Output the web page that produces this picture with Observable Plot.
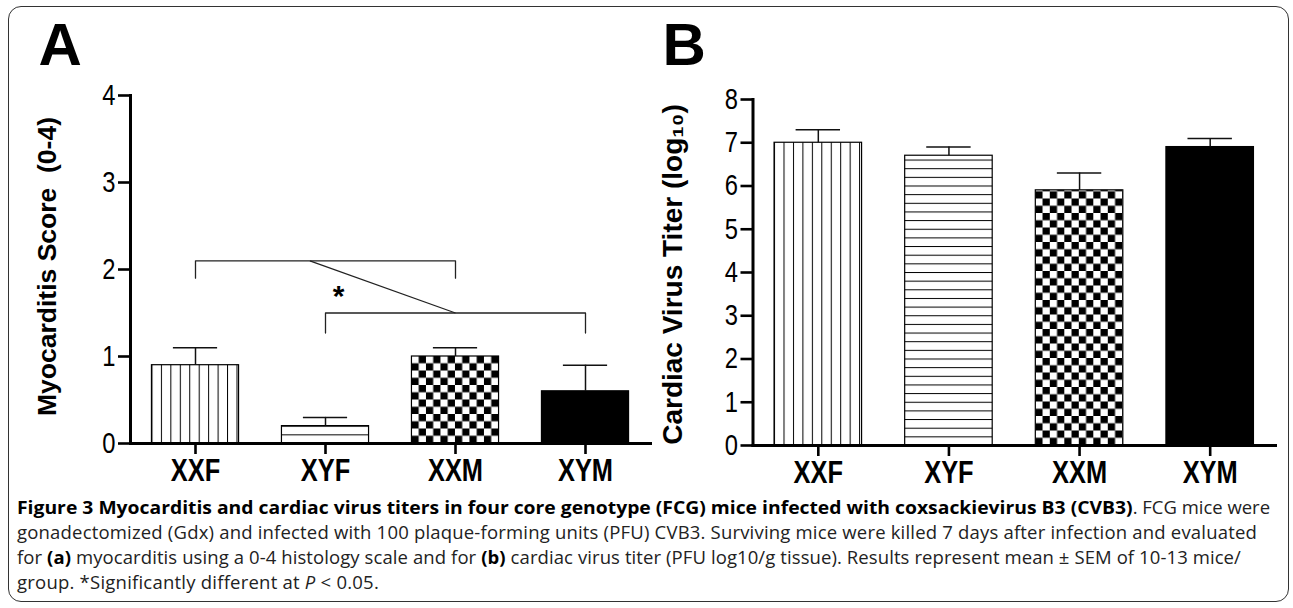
<!DOCTYPE html>
<html>
<head>
<meta charset="utf-8">
<script src="https://cdn.jsdelivr.net/npm/d3@7"></script>
<script src="https://cdn.jsdelivr.net/npm/@observablehq/plot@0.6"></script>
<style>
  html, body { margin: 0; padding: 0; background: #fff; }
  body { width: 1293px; height: 608px; position: relative; overflow: hidden; }
  #border { position: absolute; left: 8px; top: 6px; width: 1281px; height: 596px; border: 1.5px solid #333; border-radius: 13px; box-sizing: border-box; }
  #panelA { position: absolute; left: 0; top: 0; }
  #panelB { position: absolute; left: 640px; top: 0; }
  #caption { position: absolute; left: 17px; top: 494px; font-family: "Open Sans", "Noto Sans", sans-serif; font-size: 18.5px; color: #222; }
  #caption .line { height: 25px; line-height: 25px; white-space: nowrap; }
  #caption .line > span.inner { display: inline-block; white-space: nowrap; transform-origin: 0 50%; }
  #caption b { color: #000; font-weight: 700; }
  #caption b[data-w] { display: inline-block; transform-origin: 0 50%; white-space: nowrap; letter-spacing: 0; }
</style>
</head>
<body>
<div id="border"></div>
<div id="panelA"></div>
<div id="panelB"></div>
<div id="caption">
  <div class="line" data-w="1253"><span class="inner"><b data-w="1118">Figure 3 Myocarditis and cardiac virus titers in four core genotype (FCG) mice infected with coxsackievirus B3 (CVB3)</b>. FCG mice were</span></div>
  <div class="line" data-w="1240"><span class="inner">gonadectomized (Gdx) and infected with 100 plaque-forming units (PFU) CVB3. Surviving mice were killed 7 days after infection and evaluated</span></div>
  <div class="line" data-w="1224"><span class="inner">for <b>(a)</b> myocarditis using a 0-4 histology scale and for <b>(b)</b> cardiac virus titer (PFU log10/g tissue). Results represent mean ± SEM of 10-13 mice/</span></div>
  <div class="line" data-w="362"><span class="inner">group. *Significantly different at <i>P</i> &lt; 0.05.</span></div>
</div>
<script>
// ---------- data ----------
const categories = ["XXF", "XYF", "XXM", "XYM"];
const myocarditisMean = [0.9, 0.2, 1.0, 0.6];
const myocarditisSEM = [0.2, 0.1, 0.1, 0.3];
const titerMean = [7.0, 6.7, 5.9, 6.9];
const titerSEM = [0.3, 0.2, 0.4, 0.2];
const myocarditisTicks = [0, 1, 2, 3, 4];
const titerTicks = [0, 1, 2, 3, 4, 5, 6, 7, 8];
// significance brackets (panel A)
const bracketFrom = ["XXF", "XYF"];
const bracketTo = ["XXM", "XYM"];
const bracketLevel = [2.1, 1.5];
const bracketLegEnd = [1.9, 1.27];
const connectorFrom = [1.88, 2.1]; // [position along categories, score]
const connectorTo = [3, 1.5];
const starLabel = ["*"];
const starPos = [2.1, 1.77];

// ---------- style ----------
const arial = "'Liberation Sans', Arial, sans-serif";
const narrowScale = 0.82; // Arial Narrow ~ Arial at 82% width
const barHalf = 0.335, capHalf = 0.17;

function rows(means, sems) {
  return categories.map((c, k) => ({cat: c, i: k + 1, mean: means[k], top: means[k] + sems[k]}));
}

function narrowen(svg) {
  d3.select(svg).selectAll('g[aria-label="y-axis tick label"] text, g[aria-label="x-axis tick label"] text, g[aria-label="panel letter"] text')
    .each(function () {
      let t = this.getAttribute("transform") || "";
      const x = this.getAttribute("x"), y = this.getAttribute("y");
      if (x !== null && !isNaN(+x)) { t += ` translate(${+x},0)`; this.removeAttribute("x"); }
      if (y !== null && !isNaN(+y)) { t += ` translate(0,${+y})`; this.removeAttribute("y"); }
      this.setAttribute("transform", t + ` scale(${narrowScale},1)`);
    });
}

function panel(opts) {
  const data = rows(opts.means, opts.sems);
  const p = opts.prefix;
  const fills = [`url(#${p}-v)`, `url(#${p}-h)`, `url(#${p}-c)`, "#000"];
  const marks = [
    Plot.rectY(data, {x1: d => d.i - barHalf, x2: d => d.i + barHalf, y: "mean", fill: "cat", stroke: "#000", strokeWidth: 1.2}),
    Plot.ruleX(data, {x: "i", y1: "mean", y2: "top", stroke: "#111", strokeWidth: 1.5}),
    Plot.ruleY(data, {x1: d => d.i - capHalf, x2: d => d.i + capHalf, y: "top", stroke: "#111", strokeWidth: 1.5}),
    Plot.frame({anchor: "left", strokeWidth: 3}),
    Plot.frame({anchor: "bottom", strokeWidth: 3}),
    Plot.axisY({ticks: opts.ticks, tickFormat: "d", tickSize: 12, tickPadding: 3, fontSize: 29, strokeWidth: 2.6, label: null, fontFamily: arial}),
    Plot.axisX({ticks: [1, 2, 3, 4], tickFormat: i => categories[i - 1], tickSize: 11, tickPadding: 4, fontSize: 31, fontWeight: "bold", strokeWidth: 2.6, label: null, fontFamily: arial}),
    Plot.text([opts.letter], {ariaLabel: "panel letter", frameAnchor: "top-left", dx: opts.letterDx, dy: opts.letterDy, textAnchor: "start", lineAnchor: "top", fontSize: 60, fontWeight: "bold", fontFamily: arial, fill: "#000"}),
    Plot.text([opts.ylabel], {frameAnchor: "left", rotate: -90, dx: opts.labelDx, dy: opts.labelDy, textAnchor: "middle", lineAnchor: "middle", fontSize: opts.labelSize, fontWeight: "bold", fontFamily: arial, fill: "#000"})
  ];
  if (opts.extra) marks.push(...opts.extra);
  const svg = Plot.plot({
    width: opts.width, height: 490,
    marginLeft: opts.ml, marginRight: opts.mr, marginTop: opts.mt, marginBottom: opts.mb,
    style: {background: "transparent", fontFamily: arial, color: "#000", overflow: "visible"},
    x: {type: "linear", domain: [0.5, 4.5], axis: null},
    y: {domain: [opts.ticks[0], opts.ticks[opts.ticks.length - 1]], axis: null},
    color: {type: "ordinal", domain: categories, range: fills},
    marks
  });
  // patterns aligned to the bars
  const xs = svg.scale("x"), ys = svg.scale("y");
  const base = ys.apply(0);
  const defs = d3.select(svg).insert("defs", ":first-child");
  const left = k => xs.apply(k + 1 - barHalf);
  const sv = 9.45, sh = 8.65, cc = 7.25;
  const pv = defs.append("pattern").attr("id", `${p}-v`).attr("patternUnits", "userSpaceOnUse")
    .attr("x", left(0)).attr("y", 0).attr("width", sv).attr("height", 20);
  pv.append("rect").attr("width", sv).attr("height", 20).attr("fill", "#fff");
  pv.append("line").attr("x1", 0.5).attr("x2", 0.5).attr("y1", 0).attr("y2", 20).attr("stroke", "#000").attr("stroke-width", 1);
  const ph = defs.append("pattern").attr("id", `${p}-h`).attr("patternUnits", "userSpaceOnUse")
    .attr("x", 0).attr("y", base).attr("width", 20).attr("height", sh);
  ph.append("rect").attr("width", 20).attr("height", sh).attr("fill", "#fff");
  ph.append("line").attr("x1", 0).attr("x2", 20).attr("y1", 0.5).attr("y2", 0.5).attr("stroke", "#000").attr("stroke-width", 1);
  const pc = defs.append("pattern").attr("id", `${p}-c`).attr("patternUnits", "userSpaceOnUse")
    .attr("x", left(2)).attr("y", base).attr("width", 2 * cc).attr("height", 2 * cc);
  pc.append("rect").attr("width", 2 * cc).attr("height", 2 * cc).attr("fill", "#fff");
  pc.append("rect").attr("x", 0).attr("y", cc).attr("width", cc).attr("height", cc).attr("fill", "#000");
  pc.append("rect").attr("x", cc).attr("y", 0).attr("width", cc).attr("height", cc).attr("fill", "#000");
  narrowen(svg);
  return svg;
}

// brackets for panel A
const idx = c => categories.indexOf(c) + 1;
const bracketPts = [];
bracketFrom.forEach((f, k) => {
  const a = idx(f), b = idx(bracketTo[k]);
  bracketPts.push({g: k, x: a, y: bracketLegEnd[k]}, {g: k, x: a, y: bracketLevel[k]},
                  {g: k, x: b, y: bracketLevel[k]}, {g: k, x: b, y: bracketLegEnd[k]});
});

const extraA = [
  Plot.line(bracketPts, {x: "x", y: "y", z: "g", stroke: "#222", strokeWidth: 1.3}),
  Plot.link([0], {x1: () => connectorFrom[0], y1: () => connectorFrom[1], x2: () => connectorTo[0], y2: () => connectorTo[1], stroke: "#222", strokeWidth: 1.3}),
  Plot.text(starLabel, {x: () => starPos[0], y: () => starPos[1], text: d => d, fontSize: 30, fontWeight: "bold", fontFamily: arial, dy: 7, fill: "#000"})
];

document.getElementById("panelA").appendChild(panel({
  prefix: "a", means: myocarditisMean, sems: myocarditisSEM, ticks: myocarditisTicks,
  width: 655, ml: 130, mr: 5, mt: 95, mb: 47,
  letter: "A", letterDx: -92, letterDy: -73,
  ylabel: "Myocarditis Score\u00a0\u00a0(0-4)", labelDx: -83, labelDy: -3, labelSize: 26.5,
  extra: extraA
}));

document.getElementById("panelB").appendChild(panel({
  prefix: "b", means: titerMean, sems: titerSEM, ticks: titerTicks,
  width: 653, ml: 112.5, mr: 18, mt: 99, mb: 45,
  letter: "B", letterDx: -90.5, letterDy: -77,
  ylabel: "Cardiac Virus Titer (log\u2081\u2080)", labelDx: -79.5, labelDy: 2, labelSize: 28
}));

// ---------- caption fitting ----------
document.querySelectorAll("#caption b[data-w]").forEach(b => {
  const w = b.getBoundingClientRect().width, T = +b.dataset.w;
  const s = T / w;
  b.style.transform = `scaleX(${s})`;
  b.style.width = `${T}px`;
});
document.querySelectorAll("#caption .line").forEach(line => {
  const inner = line.querySelector(".inner");
  const T = +line.dataset.w;
  const w = inner.getBoundingClientRect().width;
  if (w > T) {
    inner.style.transform = `scaleX(${T / w})`;
  } else {
    let n = inner.textContent.length;
    inner.querySelectorAll("b[data-w]").forEach(b => { n -= b.textContent.length; });
    if (n > 0) inner.style.letterSpacing = `${(T - w) / n}px`;
  }
});
</script>
</body>
</html>
